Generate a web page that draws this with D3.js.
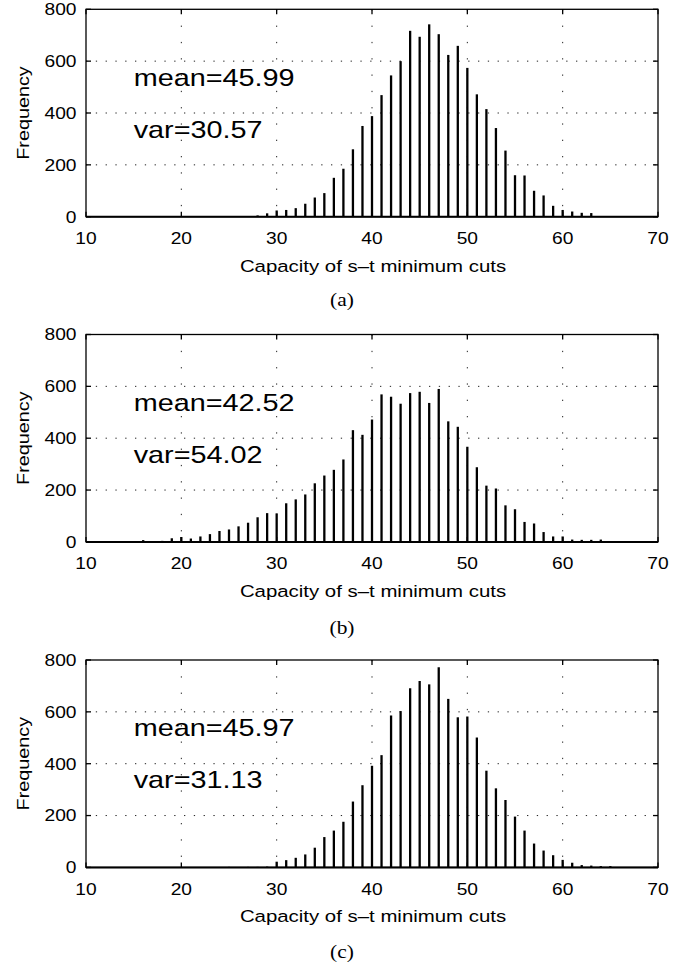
<!DOCTYPE html>
<html>
<head>
<meta charset="utf-8">
<script src="https://cdn.jsdelivr.net/npm/d3@7"></script>
<style>
  body { margin: 0; background: #fff; }
  text { fill: #000; }
</style>
</head>
<body>
<div id="chart"></div>
<script>
// capacity values on the x axis (one bar per integer)
var capacity = [11, 12, 13, 14, 15, 16, 17, 18, 19, 20,
                21, 22, 23, 24, 25, 26, 27, 28, 29, 30,
                31, 32, 33, 34, 35, 36, 37, 38, 39, 40,
                41, 42, 43, 44, 45, 46, 47, 48, 49, 50,
                51, 52, 53, 54, 55, 56, 57, 58, 59, 60,
                61, 62, 63, 64, 65, 66, 67];

// frequencies, panel (a)
var freqA = [0, 0, 0, 0, 0, 0, 0, 0, 0, 0,
             0, 0, 1, 0, 1, 2, 2, 5, 13, 24,
             26, 33, 50, 74, 91, 150, 185, 260, 350, 388,
             469, 545, 600, 717, 694, 742, 704, 624, 659, 574,
             472, 415, 342, 255, 160, 159, 100, 82, 42, 26,
             20, 15, 14, 0, 0, 0, 0];

// frequencies, panel (b)
var freqB = [2, 2, 2, 3, 3, 7, 3, 4, 14, 19,
             13, 21, 30, 42, 48, 60, 74, 95, 111, 110,
             149, 164, 183, 226, 256, 278, 318, 431, 413, 472,
             569, 560, 533, 574, 579, 536, 590, 465, 444, 367,
             288, 217, 206, 141, 126, 77, 71, 38, 21, 21,
             9, 8, 8, 9, 3, 0, 0];

// frequencies, panel (c)
var freqC = [0, 0, 0, 0, 0, 0, 0, 0, 0, 0,
             0, 0, 0, 0, 2, 0, 2, 2, 3, 22,
             28, 37, 50, 76, 117, 142, 176, 254, 317, 392,
             433, 586, 603, 691, 719, 706, 772, 650, 579, 582,
             501, 373, 305, 260, 196, 142, 92, 65, 47, 29,
             18, 9, 7, 5, 5, 0, 1];

var meanLabels = ["mean=45.99", "mean=42.52", "mean=45.97"];
var varLabels = ["var=30.57", "var=54.02", "var=31.13"];
var captions = ["(a)", "(b)", "(c)"];
var xTicks = [10, 20, 30, 40, 50, 60, 70];
var yTicks = [0, 200, 400, 600, 800];

var W = 694, H = 969;
var left = 86, right = 658, plotH = 207.4;
var panelTop = [9.3, 334.5, 660];
var captionGap = [89.5, 92, 91];
var stretch = 1.2;   // glyphs in the reference are wider than Helvetica

var svg = d3.select("#chart").append("svg")
    .attr("width", W)
    .attr("height", H)
    .style("font-family", "'Liberation Sans', Arial, sans-serif");

var x = d3.scaleLinear().domain([10, 70]).range([left, right]);
var y = d3.scaleLinear().domain([0, 800]).range([plotH, 0]);

// text with horizontally widened glyphs
function label(g, str, tx, ty, size, anchor, rot, sx) {
  var t = "translate(" + tx + "," + ty + ")" + (rot ? " rotate(" + rot + ")" : "") +
          " scale(" + (sx || stretch) + ",1)";
  return g.append("text")
      .attr("transform", t)
      .attr("text-anchor", anchor)
      .style("font-size", size + "px")
      .text(str);
}

var series = [freqA, freqB, freqC];

series.forEach(function(freq, i) {
  var g = svg.append("g")
      .attr("transform", "translate(0," + panelTop[i] + ")");

  // dotted grid
  g.selectAll(".vgrid")
    .data(xTicks.slice(1, -1))
    .enter().append("line")
      .attr("x1", function(d) { return x(d); })
      .attr("x2", function(d) { return x(d); })
      .attr("y1", 0).attr("y2", plotH)
      .attr("stroke", "#222")
      .attr("stroke-width", 1)
      .attr("stroke-dasharray", "1.3,15");

  g.selectAll(".hgrid")
    .data(yTicks.slice(1, -1))
    .enter().append("line")
      .attr("x1", left).attr("x2", right)
      .attr("y1", function(d) { return y(d); })
      .attr("y2", function(d) { return y(d); })
      .attr("stroke", "#222")
      .attr("stroke-width", 1)
      .attr("stroke-dasharray", "1.3,8.5");

  // bars (stems)
  g.selectAll(".bar")
    .data(capacity.map(function(c, j) { return {c: c, f: freq[j]}; })
                  .filter(function(d) { return d.f > 0; }))
    .enter().append("line")
      .attr("x1", function(d) { return x(d.c); })
      .attr("x2", function(d) { return x(d.c); })
      .attr("y1", y(0))
      .attr("y2", function(d) { return y(d.f); })
      .attr("stroke", "#000")
      .attr("stroke-width", 2.3);

  // box
  g.append("rect")
      .attr("x", left).attr("y", 0)
      .attr("width", right - left).attr("height", plotH)
      .attr("fill", "none")
      .attr("stroke", "#000")
      .attr("stroke-width", 1.3);
  g.append("line")
      .attr("x1", left).attr("x2", right)
      .attr("y1", plotH).attr("y2", plotH)
      .attr("stroke", "#000").attr("stroke-width", 2);

  // inward ticks on all four sides
  var tk = 5;
  xTicks.forEach(function(t) {
    g.append("line").attr("x1", x(t)).attr("x2", x(t))
      .attr("y1", plotH).attr("y2", plotH - tk).attr("stroke", "#000").attr("stroke-width", 1.3);
    g.append("line").attr("x1", x(t)).attr("x2", x(t))
      .attr("y1", 0).attr("y2", tk).attr("stroke", "#000").attr("stroke-width", 1.3);
  });
  yTicks.forEach(function(t) {
    g.append("line").attr("x1", left).attr("x2", left + tk)
      .attr("y1", y(t)).attr("y2", y(t)).attr("stroke", "#000").attr("stroke-width", 1.3);
    g.append("line").attr("x1", right).attr("x2", right - tk)
      .attr("y1", y(t)).attr("y2", y(t)).attr("stroke", "#000").attr("stroke-width", 1.3);
  });

  // tick labels
  yTicks.forEach(function(t) {
    label(g, t, 76.5, y(t) + 5.8, 16, "end");
  });
  xTicks.forEach(function(t) {
    label(g, t, x(t), plotH + 27.5, 16, "middle");
  });

  // axis titles
  label(g, "Capacity of s\u2013t minimum cuts", (left + right) / 2 + 1, plotH + 55, 17, "middle");
  label(g, "Frequency", 28.5, plotH / 2, 16.5, "middle", -90);

  // statistics
  label(g, meanLabels[i], x(15), y(506), 24, "start");
  label(g, varLabels[i], x(15), y(305), 24, "start");

  // caption
  label(g, captions[i], 342, plotH + captionGap[i], 19.5, "middle", 0, 1.1)
    .style("font-family", "'Liberation Serif', 'Times New Roman', serif");
});
</script>
</body>
</html>
